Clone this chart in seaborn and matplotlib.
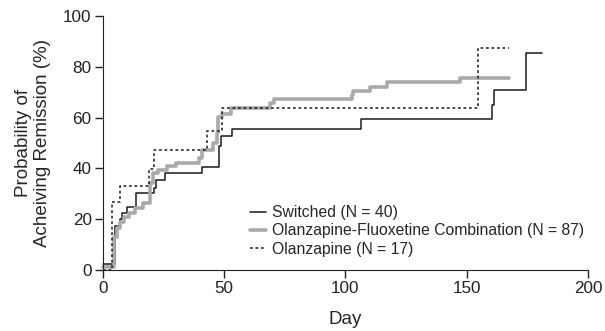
import pandas as pd
import matplotlib
matplotlib.use("Agg")
import matplotlib.pyplot as plt
import seaborn as sns

# Kaplan-Meier style step data (day, % remission)
switched_day = [0, 5.2, 7, 8, 9.8, 13.6, 21.2, 22, 25.8, 40.8, 47.8, 48.5, 53.3,
                106.4, 160.5, 161.2, 174.3, 181]
switched_pct = [2.5, 17.5, 20, 22.5, 25, 30.4, 32.4, 35.4, 38, 40.7, 49, 52.9, 55.5,
                59.3, 65, 70.9, 85.3, 85.3]

ofc_day = [0, 4.8, 5.9, 7, 8.7, 10.7, 13.2, 16.6, 19.4, 20.5, 22.8, 26.3, 30, 39.7,
           41, 45.5, 46.9, 47.6, 49, 53, 68.9, 70.5, 102.5, 103.2, 110, 117, 147.2, 167.5]
ofc_pct = [1.2, 13, 16.5, 19, 21, 22.3, 24.5, 26.2, 34.4, 38, 39.4, 41, 42.2, 44,
           47.2, 49.9, 53.8, 60.4, 61.3, 63.6, 65.6, 67.2, 68.9, 70.6, 71.9, 74, 75.7, 75.7]

olz_day = [0, 3.8, 7, 19, 21, 43, 49, 154.5, 167.5]
olz_pct = [0, 26.9, 33.2, 39.6, 47.2, 54.8, 63.9, 87.5, 87.5]

labels = ["Switched (N = 40)",
          "Olanzapine-Fluoxetine Combination (N = 87)",
          "Olanzapine (N = 17)"]

sns.set_style("ticks")
plt.rcParams['font.family'] = ['Liberation Sans', 'DejaVu Sans']

fig = plt.figure(figsize=(6.05, 3.31), dpi=100)
ax = fig.add_axes([0.170, 0.184, 0.802, 0.768])

sns.lineplot(x=switched_day, y=switched_pct, ax=ax, drawstyle='steps-post',
             color='#1a1a1a', lw=1.1, label=labels[0], clip_on=False)
sns.lineplot(x=ofc_day, y=ofc_pct, ax=ax, drawstyle='steps-post',
             color='#aaaaaa', lw=2.6, label=labels[1], clip_on=False)
sns.lineplot(x=olz_day, y=olz_pct, ax=ax, drawstyle='steps-post',
             color='#1a1a1a', lw=1.1, dashes=(1.8, 1.8), label=labels[2], clip_on=False)

ax.set_xlim(0, 200)
ax.set_ylim(0, 100)
ax.set_xticks([0, 50, 100, 150, 200])
ax.set_yticks([0, 20, 40, 60, 80, 100])
ax.tick_params(labelsize=12.3, length=6, width=1, colors='#222222', pad=2)
ax.set_xlabel("Day", fontsize=13.5, labelpad=11)
ax.set_ylabel("Probability of\nAcheiving Remission (%)", fontsize=13.5,
              labelpad=9, linespacing=1.1)
for s in ['left', 'bottom']:
    ax.spines[s].set_color('#222222')
sns.despine(ax=ax)

ax.legend(loc='upper left', bbox_to_anchor=(0.303, 0.255), frameon=False,
          borderpad=0, borderaxespad=0, fontsize=11.3, handlelength=1.05,
          handletextpad=0.35, labelspacing=0.2)

fig.savefig("out.png", dpi=100)
